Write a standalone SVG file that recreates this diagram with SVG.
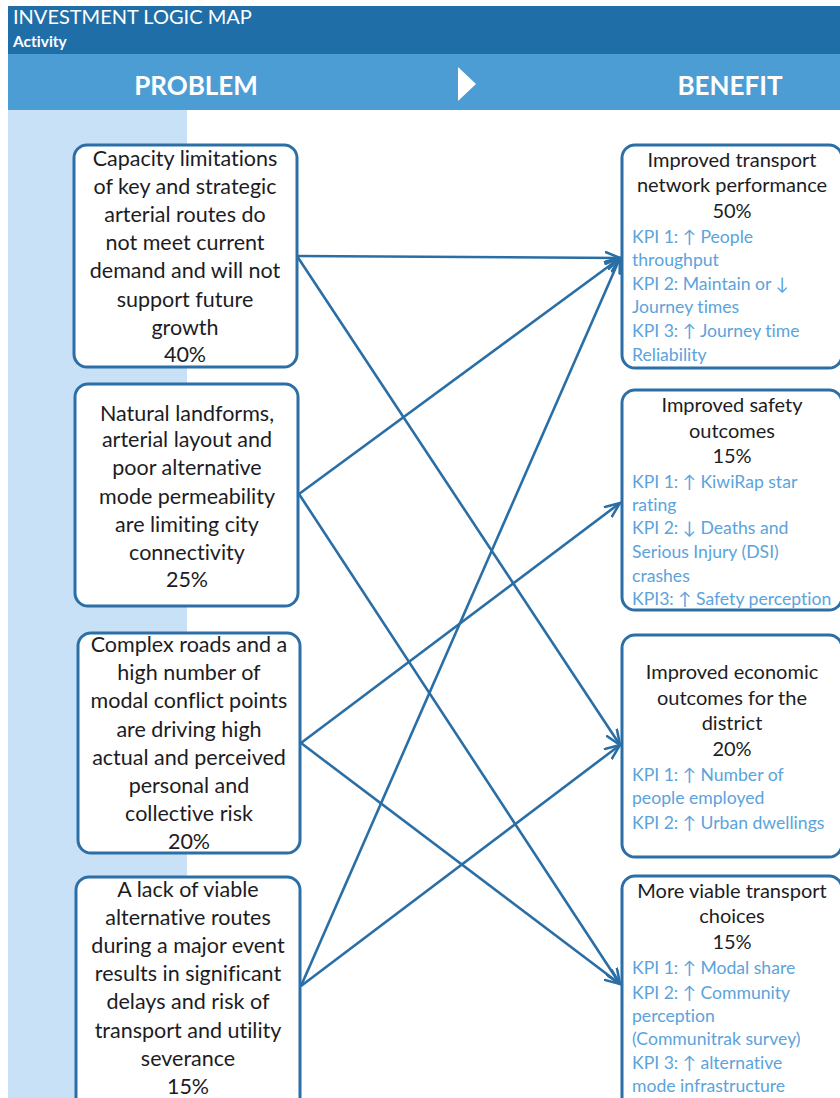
<svg xmlns="http://www.w3.org/2000/svg" width="840" height="1098" viewBox="0 0 840 1098">
  <style>
    text { font-variant-ligatures: none; font-feature-settings: "liga" 0, "dlig" 0; }
    .hdr { fill: #ffffff; font-family: Lato, "Liberation Sans", sans-serif; }
    .band-title { fill: #ffffff; font-family: Lato, "Liberation Sans", sans-serif; font-weight: bold; font-size: 26px; text-anchor: middle; }
    .box { fill: #ffffff; stroke: #2C6FA6; stroke-width: 3; }
    .ptext { fill: #1c1c24; font-family: Lato, "Liberation Sans", sans-serif; font-size: 21.5px; text-anchor: middle; }
    .btext { fill: #1c1c24; font-family: Lato, "Liberation Sans", sans-serif; font-size: 20px; text-anchor: middle; }
    .kpi { fill: #5BA3DC; font-family: Lato, "Liberation Sans", "DejaVu Sans", sans-serif; font-size: 17.6px; }
    .conn { stroke: #2A6EA6; stroke-width: 2.6; fill: none; marker-end: url(#arrow); }
  </style>
  <defs>
    <marker id="arrow" viewBox="0 0 12 10" refX="11" refY="5" markerWidth="6.5" markerHeight="5.5" orient="auto" markerUnits="strokeWidth">
      <path d="M0,0.5 L11,5 L0,9.5" fill="none" stroke="#2A6EA6" stroke-width="1.8" stroke-linejoin="miter"/>
    </marker>
  </defs>

  <!-- page background -->
  <rect x="0" y="0" width="840" height="1098" fill="#ffffff"/>

  <!-- header bands -->
  <g id="header">
    <rect x="8" y="6" width="832" height="48" fill="#1F6EA8"/>
    <text class="hdr" x="13" y="24" font-size="20">INVESTMENT LOGIC MAP</text>
    <text class="hdr" x="13" y="47" font-size="15.5" font-weight="bold">Activity</text>
    <rect x="8" y="54" width="832" height="56" fill="#4D9DD5"/>
    <text class="band-title" x="196" y="95">PROBLEM</text>
    <polygon points="458,67 476,84 458,101" fill="#ffffff"/>
    <text class="band-title" x="730" y="95">BENEFIT</text>
  </g>

  <!-- shaded problem column -->
  <rect x="8" y="110" width="179" height="988" fill="#C9E1F6"/>

  <!-- connectors -->
  <g id="connectors">
    <line class="conn" x1="297" y1="256" x2="620" y2="258"/>
    <line class="conn" x1="297" y1="256" x2="620" y2="745"/>
    <line class="conn" x1="299" y1="494" x2="620" y2="258"/>
    <line class="conn" x1="299" y1="494" x2="620" y2="984"/>
    <line class="conn" x1="301" y1="743" x2="620" y2="503"/>
    <line class="conn" x1="301" y1="743" x2="620" y2="984"/>
    <line class="conn" x1="301" y1="986" x2="620" y2="258"/>
    <line class="conn" x1="301" y1="986" x2="620" y2="745"/>
  </g>

  <!-- problem nodes -->
  <g id="problem-1">
    <rect class="box" x="74" y="145" width="223" height="222" rx="13"/>
    <text class="ptext" x="185" y="166">Capacity limitations</text>
    <text class="ptext" x="185" y="194">of key and strategic</text>
    <text class="ptext" x="185" y="222">arterial routes do</text>
    <text class="ptext" x="185" y="250">not meet current</text>
    <text class="ptext" x="185" y="278">demand and will not</text>
    <text class="ptext" x="185" y="307">support future</text>
    <text class="ptext" x="185" y="335">growth</text>
    <text class="ptext" x="185" y="362">40%</text>
  </g>

  <g id="problem-2">
    <rect class="box" x="75" y="384" width="223" height="222" rx="13"/>
    <text class="ptext" x="187" y="421">Natural landforms,</text>
    <text class="ptext" x="187" y="447">arterial layout and</text>
    <text class="ptext" x="187" y="475">poor alternative</text>
    <text class="ptext" x="187" y="504">mode permeability</text>
    <text class="ptext" x="187" y="532">are limiting city</text>
    <text class="ptext" x="187" y="560">connectivity</text>
    <text class="ptext" x="187" y="587">25%</text>
  </g>

  <g id="problem-3">
    <rect class="box" x="78" y="633" width="222" height="220" rx="13"/>
    <text class="ptext" x="189" y="652">Complex roads and a</text>
    <text class="ptext" x="189" y="680">high number of</text>
    <text class="ptext" x="189" y="708">modal conflict points</text>
    <text class="ptext" x="189" y="737">are driving high</text>
    <text class="ptext" x="189" y="765">actual and perceived</text>
    <text class="ptext" x="189" y="793">personal and</text>
    <text class="ptext" x="189" y="821">collective risk</text>
    <text class="ptext" x="189" y="849">20%</text>
  </g>

  <g id="problem-4">
    <rect class="box" x="76" y="877" width="224" height="240" rx="13"/>
    <text class="ptext" x="188" y="897">A lack of viable</text>
    <text class="ptext" x="188" y="925">alternative routes</text>
    <text class="ptext" x="188" y="953">during a major event</text>
    <text class="ptext" x="188" y="981">results in significant</text>
    <text class="ptext" x="188" y="1009">delays and risk of</text>
    <text class="ptext" x="188" y="1038">transport and utility</text>
    <text class="ptext" x="188" y="1066">severance</text>
    <text class="ptext" x="188" y="1094">15%</text>
  </g>

  <!-- benefit nodes -->
  <g id="benefit-1">
    <rect class="box" x="622" y="145" width="220" height="223" rx="13"/>
    <text class="btext" x="732" y="167">Improved transport</text>
    <text class="btext" x="732" y="192">network performance</text>
    <text class="btext" x="732" y="218">50%</text>
    <text class="kpi" x="632" y="243">KPI 1: ↑ People</text>
    <text class="kpi" x="632" y="266">throughput</text>
    <text class="kpi" x="632" y="290">KPI 2: Maintain or ↓</text>
    <text class="kpi" x="632" y="313">Journey times</text>
    <text class="kpi" x="632" y="337">KPI 3: ↑ Journey time</text>
    <text class="kpi" x="632" y="361">Reliability</text>
  </g>

  <g id="benefit-2">
    <rect class="box" x="622" y="390" width="220" height="220" rx="13"/>
    <text class="btext" x="732" y="412">Improved safety</text>
    <text class="btext" x="732" y="438">outcomes</text>
    <text class="btext" x="732" y="463">15%</text>
    <text class="kpi" x="632" y="488">KPI 1: ↑ KiwiRap star</text>
    <text class="kpi" x="632" y="511">rating</text>
    <text class="kpi" x="632" y="534">KPI 2: ↓ Deaths and</text>
    <text class="kpi" x="632" y="558">Serious Injury (DSI)</text>
    <text class="kpi" x="632" y="582">crashes</text>
    <text class="kpi" x="632" y="605">KPI3: ↑ Safety perception</text>
  </g>

  <g id="benefit-3">
    <rect class="box" x="622" y="635" width="220" height="222" rx="13"/>
    <text class="btext" x="732" y="679">Improved economic</text>
    <text class="btext" x="732" y="705">outcomes for the</text>
    <text class="btext" x="732" y="730">district</text>
    <text class="btext" x="732" y="756">20%</text>
    <text class="kpi" x="632" y="781">KPI 1: ↑ Number of</text>
    <text class="kpi" x="632" y="804">people employed</text>
    <text class="kpi" x="632" y="829">KPI 2: ↑ Urban dwellings</text>
  </g>

  <g id="benefit-4">
    <rect class="box" x="622" y="876" width="220" height="240" rx="13"/>
    <text class="btext" x="732" y="898">More viable transport</text>
    <text class="btext" x="732" y="923">choices</text>
    <text class="btext" x="732" y="949">15%</text>
    <text class="kpi" x="632" y="974">KPI 1: ↑ Modal share</text>
    <text class="kpi" x="632" y="999">KPI 2: ↑ Community</text>
    <text class="kpi" x="632" y="1022">perception</text>
    <text class="kpi" x="632" y="1045">(Communitrak survey)</text>
    <text class="kpi" x="632" y="1069">KPI 3: ↑ alternative</text>
    <text class="kpi" x="632" y="1092">mode infrastructure</text>
  </g>
</svg>
